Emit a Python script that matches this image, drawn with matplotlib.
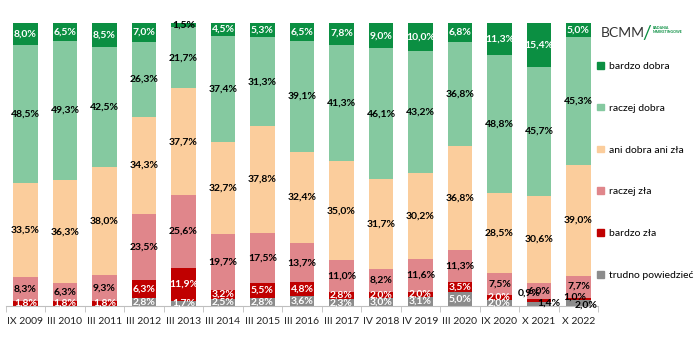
import matplotlib
matplotlib.use("Agg")
import matplotlib.pyplot as plt
from matplotlib.patches import Patch

plt.rcParams['font.family'] = ['Lato', 'DejaVu Sans']

periods = ["IX 2009", "III 2010", "III 2011", "III 2012", "III 2013", "III 2014", "III 2015",
           "III 2016", "III 2017", "IV 2018", "IV 2019", "III 2020", "IX 2020", "X 2021", "X 2022"]

# stacked from the bottom up
trudno = [0, 0, 0, 2.8, 1.7, 2.5, 2.8, 3.6, 2.3, 3.0, 3.1, 5.0, 2.0, 1.4, 2.0]
bardzo_zla = [1.8, 1.8, 1.8, 6.3, 11.9, 3.2, 5.5, 4.8, 2.8, 2.0, 2.0, 3.5, 2.0, 0.9, 1.0]
raczej_zla = [8.3, 6.3, 9.3, 23.5, 25.6, 19.7, 17.5, 13.7, 11.0, 8.2, 11.6, 11.3, 7.5, 6.0, 7.7]
ani = [33.5, 36.3, 38.0, 34.3, 37.7, 32.7, 37.8, 32.4, 35.0, 31.7, 30.2, 36.8, 28.5, 30.6, 39.0]
raczej_dobra = [48.5, 49.3, 42.5, 26.3, 21.7, 37.4, 31.3, 39.1, 41.3, 46.1, 43.2, 36.8, 48.8, 45.7, 45.3]
bardzo_dobra = [8.0, 6.5, 8.5, 7.0, 1.5, 4.5, 5.3, 6.5, 7.8, 9.0, 10.0, 6.8, 11.3, 15.4, 5.0]

series = [
    ("trudno powiedzieć", trudno, "#8c8c8c", "white"),
    ("bardzo zła", bardzo_zla, "#c00000", "white"),
    ("raczej zła", raczej_zla, "#e0868b", "black"),
    ("ani dobra ani zła", ani, "#fbcd9c", "black"),
    ("raczej dobra", raczej_dobra, "#85c9a0", "black"),
    ("bardzo dobra", bardzo_dobra, "#0b8f42", "white"),
]

fig = plt.figure(figsize=(7, 3.5), dpi=100)
ax = fig.add_axes([0.0082, 0.1257, 0.8464, 0.8086])

x = list(range(len(periods)))
bottom = [0.0] * len(periods)
for name, vals, color, tcol in series:
    ax.bar(x, vals, width=0.63, bottom=bottom, color=color, label=name)
    for i, v in enumerate(vals):
        if v > 0:
            dx, dy, c = 0, 0, tcol
            # tiny segments in the last two bars: labels pushed aside, black
            if i == 13 and name == "bardzo zła":
                dx, dy, c = -0.25, 2.7, "black"
            if i == 13 and name == "trudno powiedzieć":
                dx, dy, c = 0.25, 0.2, "black"
            if i == 14 and name == "bardzo zła":
                dx, dy, c = -0.1, 0.6, "black"
            if i == 14 and name == "trudno powiedzieć":
                dx, dy, c = 0.2, -0.6, "black"
            if name == "bardzo dobra" and i == 4:
                c = "black"
            ax.text(i + dx, bottom[i] + v / 2 + dy, f"{v:.1f}%".replace(".", ","),
                    ha="center", va="center", fontsize=7.5, fontweight="bold", color=c)
    bottom = [b + v for b, v in zip(bottom, vals)]

ax.set_xlim(-0.5, len(periods) - 0.5)
ax.set_ylim(0, 100)
ax.set_xticks(x)
ax.set_xticklabels(periods, fontsize=7.5, color="#222222")
ax.set_xticks([i + 0.5 for i in range(-1, len(periods))], minor=True)
ax.tick_params(axis="x", which="major", length=0, pad=8)
ax.tick_params(axis="x", which="minor", length=4, color="#bfbfbf")
ax.set_yticks([])
for s in ["top", "right", "left"]:
    ax.spines[s].set_visible(False)
ax.spines["bottom"].set_color("#bfbfbf")

handles = [Patch(color=c, label=n) for n, _, c, _ in reversed(series)]
fig.legend(handles=handles, loc="upper left", bbox_to_anchor=(0.846, 0.838), frameon=False,
           fontsize=7.5, handlelength=0.6, handleheight=0.6, handletextpad=0.5,
           labelspacing=3.15, borderpad=0)

# logo
fig.text(0.858, 0.905, "BCMM", fontsize=10, color="#333333", va="center", ha="left")
fig.text(0.918, 0.905, "/", fontsize=14, color="#0b8f42", va="center", ha="left")
fig.text(0.932, 0.915, "BADANIA\nMARKETINGOWE", fontsize=2.6, color="#0b8f42",
         va="center", ha="left", fontweight="bold", linespacing=1.0)

fig.savefig("out.png", dpi=100)
